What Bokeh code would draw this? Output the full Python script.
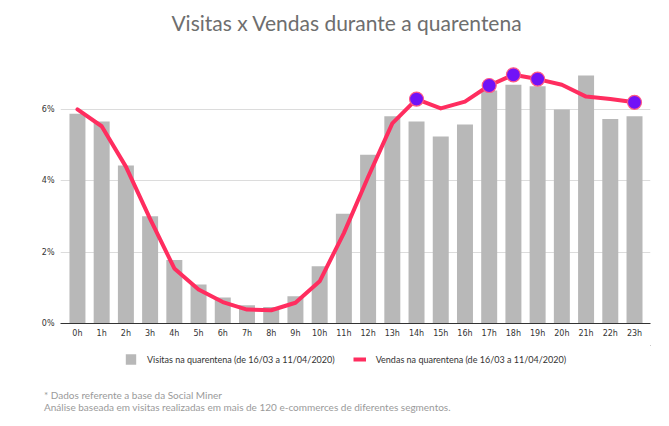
from bokeh.plotting import figure
from bokeh.models import Range1d, FixedTicker, Legend, LegendItem, Div, ColumnDataSource
from bokeh.layouts import column
from bokeh.embed import file_html
from bokeh.resources import INLINE

hours = ["0h", "1h", "2h", "3h", "4h", "5h", "6h", "7h", "8h", "9h", "10h", "11h",
         "12h", "13h", "14h", "15h", "16h", "17h", "18h", "19h", "20h", "21h", "22h", "23h"]
visitas = [5.87, 5.65, 4.42, 3.00, 1.78, 1.09, 0.73, 0.51, 0.46, 0.76, 1.60, 3.07,
           4.72, 5.80, 5.65, 5.23, 5.57, 6.52, 6.68, 6.64, 5.99, 6.94, 5.72, 5.80]
vendas = [5.99, 5.52, 4.39, 2.93, 1.54, 0.95, 0.60, 0.39, 0.37, 0.58, 1.18, 2.53,
          4.10, 5.60, 6.28, 6.02, 6.21, 6.66, 6.96, 6.84, 6.68, 6.35, 6.28, 6.19]
destaques = ["14h", "17h", "18h", "19h", "23h"]
y_ticks = [0, 2, 4, 6]
y_tick_labels = ["0%", "2%", "4%", "6%"]

title_text = "Visitas x Vendas durante a quarentena"
legend_visitas = "Visitas na quarentena (de 16/03 a 11/04/2020)"
legend_vendas = "Vendas na quarentena (de 16/03 a 11/04/2020)"
nota1 = "* Dados referente a base  da Social Miner"
nota2 = "Análise baseada em visitas realizadas em mais de 120 e-commerces de diferentes segmentos."

BAR_COLOR = "#b8b8b8"
LINE_COLOR = "#ff2d5f"

xs = list(range(len(hours)))
src = ColumnDataSource(dict(x=xs, visitas=visitas, vendas=vendas))
hx = [hours.index(h) for h in destaques]
hy = [vendas[i] for i in hx]

title = Div(text=title_text, width=661, height=40, margin=0,
            styles={"font-family": "Lato", "font-size": "21px", "color": "#6e6e6e",
                    "line-height": "25px", "padding-top": "10px", "padding-left": "32px",
                    "text-align": "center", "box-sizing": "border-box", "width": "661px"})

p = figure(width=661, height=305, output_backend="svg", toolbar_location=None, title=None,
           x_range=Range1d(-0.7, 23.66), y_range=Range1d(0, 7.5),
           min_border_left=60, min_border_right=11, min_border_top=15, min_border_bottom=22)
p.outline_line_color = None
p.background_fill_color = "white"

p.vbar(x="x", top="visitas", width=0.66, source=src, fill_color=BAR_COLOR, line_color=None)
p.line(x="x", y="vendas", source=src, line_color=LINE_COLOR, line_width=4,
       line_join="round", line_cap="round")
p.scatter(hx, hy, size=14, fill_color="#7112f7", line_color="#ff5a86", line_width=1.2)

p.xaxis.ticker = FixedTicker(ticks=xs)
p.xaxis.major_label_overrides = {i: h for i, h in enumerate(hours)}
p.xaxis.major_tick_line_color = None
p.xaxis.major_tick_out = 0
p.xaxis.minor_tick_line_color = None
p.xaxis.axis_line_color = "#333333"
p.xaxis.major_label_text_font = "DejaVu Sans"
p.xaxis.major_label_text_font_size = "8px"
p.xaxis.major_label_text_color = "#333333"
p.xaxis.major_label_standoff = 5

p.yaxis.ticker = FixedTicker(ticks=y_ticks)
p.yaxis.major_label_overrides = {t: l for t, l in zip(y_ticks, y_tick_labels)}
p.yaxis.axis_line_color = None
p.yaxis.major_tick_line_color = None
p.yaxis.major_tick_out = 0
p.yaxis.minor_tick_line_color = None
p.yaxis.major_label_text_font = "DejaVu Sans"
p.yaxis.major_label_text_font_size = "8px"
p.yaxis.major_label_text_color = "#333333"
p.yaxis.major_label_standoff = 6

p.xgrid.grid_line_color = None
p.ygrid.grid_line_color = "#dcdcdc"
p.ygrid.grid_line_width = 1

# legend strip: its own small figure whose view is kept away from the data,
# so only the legend keys (same styles as the chart) are shown
lg = figure(width=661, height=27, output_backend="svg", toolbar_location=None,
            x_range=Range1d(-100, -99), y_range=Range1d(-100, -99),
            x_axis_location=None, y_axis_location=None,
            min_border_left=0, min_border_right=0, min_border_top=0, min_border_bottom=0)
lg.outline_line_color = None
lg.grid.grid_line_color = None
kb = lg.vbar(x="x", top="visitas", width=0.66, source=src, fill_color=BAR_COLOR, line_color=None)
kl = lg.line(x="x", y="vendas", source=src, line_color=LINE_COLOR, line_width=4)
legend = Legend(items=[LegendItem(label=legend_visitas, renderers=[kb]),
                       LegendItem(label=legend_vendas, renderers=[kl])],
                orientation="horizontal", location="center_left",
                label_text_font="Lato", label_text_font_size="9px", label_text_color="#333333",
                glyph_width=13, glyph_height=13, spacing=18, label_standoff=10,
                border_line_color=None, background_fill_alpha=0, padding=0, margin=64)
lg.add_layout(legend)

notes = Div(text=nota1 + "<br>" + nota2, width=661, height=46, margin=0,
            styles={"font-family": "Lato", "font-size": "10px", "color": "#9a9a9a",
                    "line-height": "12px", "padding-left": "44px", "padding-top": "17px"})

layout = column(title, p, lg, notes, spacing=0)
open("out.html", "w").write(file_html(layout, INLINE))
